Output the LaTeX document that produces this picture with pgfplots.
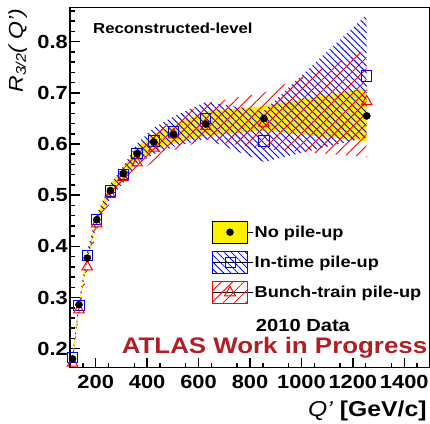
\documentclass[border=0pt]{standalone}
\usepackage{fontspec}
\setmainfont{Liberation Sans}[FakeStretch=1.15]
\usepackage{pgfplots}
\pgfplotsset{compat=1.18}
\usepackage{pgfplotstable}
\usepgfplotslibrary{fillbetween}
\usetikzlibrary{patterns.meta}
\definecolor{atlasred}{RGB}{178,30,36}

\pgfplotstableread{
Q R lo hi
110 0.180 0.175 0.185
135 0.286 0.281 0.291
167 0.377 0.371 0.383
204 0.452 0.445 0.459
257 0.509 0.498 0.520
307 0.542 0.530 0.554
361 0.581 0.567 0.595
426 0.604 0.588 0.620
503 0.619 0.601 0.637
628 0.639 0.616 0.664
854 0.650 0.626 0.674
1254 0.655 0.605 0.709
}\nopu

\pgfplotstableread{
Q R lo hi
110 0.183 0.176 0.190
135 0.285 0.278 0.292
167 0.382 0.373 0.391
204 0.453 0.443 0.463
257 0.508 0.494 0.522
307 0.540 0.524 0.556
361 0.581 0.561 0.601
426 0.606 0.580 0.632
503 0.624 0.594 0.654
628 0.650 0.610 0.682
854 0.606 0.565 0.665
1254 0.733 0.613 0.853
}\intime

\pgfplotstableread{
Q R lo hi
110 0.172 0.165 0.179
135 0.276 0.268 0.284
167 0.360 0.350 0.370
204 0.444 0.432 0.456
257 0.501 0.487 0.515
307 0.535 0.518 0.552
361 0.563 0.543 0.583
426 0.592 0.566 0.618
503 0.618 0.588 0.648
628 0.634 0.608 0.680
854 0.641 0.590 0.700
1254 0.683 0.575 0.784
}\bunch

\begin{document}
\begin{tikzpicture}
\begin{axis}[
  scale only axis, width=360pt, height=360.2pt,
  xmin=100, xmax=1500, ymin=0.1629, ymax=0.8668,
  axis line style={line width=1.5pt},
  xtick={200,400,600,800,1000,1200,1400},
  xticklabels={200,400,600,800,1000,1200,1400},
  ytick={0.2,0.3,0.4,0.5,0.6,0.7,0.8},
  yticklabels={0.2,0.3,0.4,0.5,0.6,0.7,0.8},
  minor xtick={150,250,...,1450},
  minor ytick={0.18,0.2,...,0.87},
  tick align=inside, xtick pos=bottom, ytick pos=left,
  major tick length=10pt, minor tick length=5pt,
  every tick/.style={black, line width=1.5pt},
  tick label style={font=\fontsize{19}{19}\selectfont\bfseries},
  yticklabel style={inner sep=0pt, xshift=-2pt},
  xticklabel style={inner sep=0pt, yshift=-7pt, anchor=north},
  ylabel={\textit{R\textsubscript{3/2}( Q’)}},
  ylabel style={font=\fontsize{20}{20}\selectfont, at={(axis description cs:-0.119,0.998)}, anchor=south east, inner sep=0pt},
  xlabel={\textit{Q’} \textbf{[GeV/c]}},
  xlabel style={font=\fontsize{21.5}{21.5}\selectfont, at={(axis description cs:0.991,0)}, anchor=north east, inner sep=0pt, yshift=-33pt},
  legend style={draw=none, fill=none, at={(axis description cs:0.394,0.408)}, anchor=north west,
    font=\fontsize{15.8}{15.8}\selectfont\bfseries, inner sep=0pt, row sep=7.5pt},
  legend cell align=left,
  clip=true,
]
% legend images
\addlegendimage{legend image code/.code={
  \path (0pt,0pt) -- (40pt,0pt);
  \draw[fill=yellow,draw=black,line width=1pt] (0pt,-10.8pt) rectangle (35pt,10.8pt);
  \fill[black] (17.5pt,0pt) circle (3.5pt);}}
\addlegendentry{No pile-up}
\addlegendimage{legend image code/.code={
  \path (0pt,0pt) -- (40pt,0pt);
  \path[pattern={Lines[angle=-45,distance=5pt,line width=0.8pt]}, pattern color=blue] (0pt,-10.8pt) rectangle (35pt,10.8pt);
  \draw[blue,line width=1pt] (0pt,-10.8pt) rectangle (35pt,10.8pt);
  \draw[blue,line width=1pt] (12.5pt,-5pt) rectangle (22.5pt,5pt);}}
\addlegendentry{In-time pile-up}
\addlegendimage{legend image code/.code={
  \path (0pt,0pt) -- (40pt,0pt);
  \path[pattern={Lines[angle=45,distance=8pt,line width=0.8pt]}, pattern color=red] (0pt,-10.8pt) rectangle (35pt,10.8pt);
  \draw[red,line width=1pt] (0pt,-10.8pt) rectangle (35pt,10.8pt);
  \draw[red,line width=1pt] (12pt,-3.5pt) -- (23pt,-3.5pt) -- (17.5pt,6pt) -- cycle;}}
\addlegendentry{Bunch-train pile-up}

% bands
\addplot[name path=nu, draw=none, forget plot] table[x=Q,y=hi] {\nopu};
\addplot[name path=nl, draw=none, forget plot] table[x=Q,y=lo] {\nopu};
\addplot[fill=yellow, draw=none, forget plot] fill between[of=nu and nl];

\addplot[name path=iu, draw=none, forget plot] table[x=Q,y=hi] {\intime};
\addplot[name path=il, draw=none, forget plot] table[x=Q,y=lo] {\intime};
\addplot[draw=none, pattern={Lines[angle=-45,distance=4.7pt,line width=0.9pt]}, pattern color=blue, forget plot] fill between[of=iu and il];

\addplot[name path=bu, draw=none, forget plot] table[x=Q,y=hi] {\bunch};
\addplot[name path=bl, draw=none, forget plot] table[x=Q,y=lo] {\bunch};
\addplot[draw=none, pattern={Lines[angle=45,distance=7.8pt,line width=0.9pt]}, pattern color=red, forget plot] fill between[of=bu and bl];

% markers
\addplot[only marks, mark=square, mark size=5.2pt, blue, mark options={line width=1pt}, forget plot] table[x=Q,y=R] {\intime};
\addplot[only marks, mark=triangle, mark size=6pt, red, mark options={line width=1pt}, forget plot] table[x=Q,y=R] {\bunch};
\addplot[only marks, mark=*, mark size=3.6pt, black, forget plot] table[x=Q,y=R] {\nopu};

% texts
\node[anchor=north west, inner sep=0pt, font=\fontsize{14.5}{14.5}\selectfont\bfseries] at (axis description cs:0.064,0.957) {Reconstructed-level};
\node[anchor=north west, inner sep=0pt, font=\fontsize{17.5}{17.5}\selectfont\bfseries] at (axis description cs:0.516,0.136) {2010 Data};
\node[anchor=north west, inner sep=0pt, font=\fontsize{22.5}{22.5}\selectfont\bfseries, text=atlasred] at (axis description cs:0.1436,0.085) {ATLAS Work in Progress};

\coordinate (bbl) at (axis description cs:-0.1944,-0.1563);
\coordinate (btr) at (axis description cs:1,1.0208);
\end{axis}
\pgfresetboundingbox
\path (bbl) rectangle (btr);
\end{tikzpicture}
\end{document}
